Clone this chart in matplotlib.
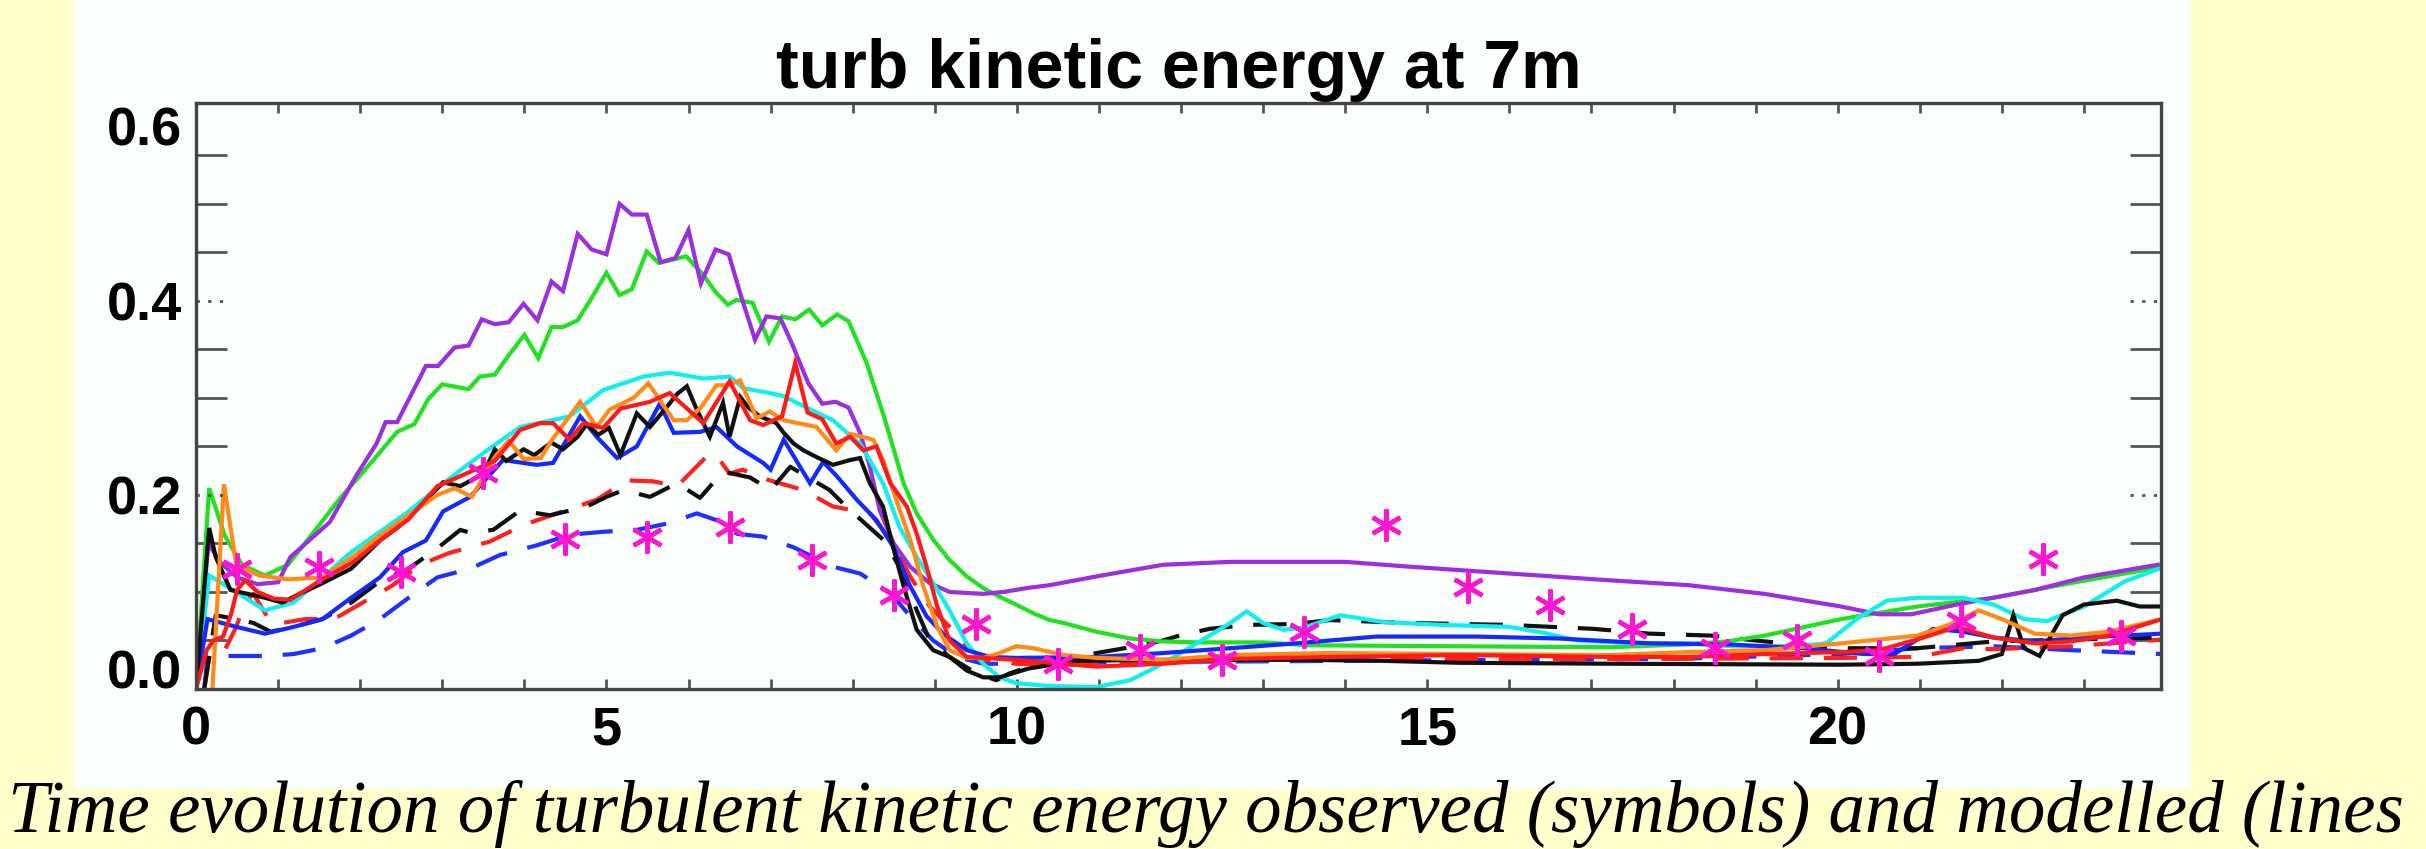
import matplotlib
matplotlib.use("Agg")
import numpy as np
import matplotlib.pyplot as plt
import matplotlib.transforms as mtransforms
from matplotlib.patches import Rectangle

# ---------------- data (time in hours, TKE) ----------------
purple = [(0, 0.0), (0.15, 0.15), (0.3, 0.13), (0.5, 0.115), (0.75, 0.108), (1.0, 0.11), (1.15, 0.136),
          (1.63, 0.172), (1.96, 0.221), (2.2, 0.253), (2.31, 0.275), (2.45, 0.275), (2.8, 0.333), (2.95, 0.333),
          (3.15, 0.352), (3.32, 0.354), (3.48, 0.381), (3.64, 0.376), (3.81, 0.378), (3.99, 0.397), (4.16, 0.38),
          (4.33, 0.42), (4.47, 0.41), (4.65, 0.469), (4.82, 0.453), (5.0, 0.448), (5.16, 0.50), (5.31, 0.489),
          (5.49, 0.489), (5.66, 0.44), (5.84, 0.444), (6.0, 0.473), (6.15, 0.418), (6.33, 0.453), (6.49, 0.448),
          (6.64, 0.405), (6.81, 0.360), (6.95, 0.384), (7.12, 0.382), (7.26, 0.356), (7.46, 0.315), (7.63, 0.294),
          (7.79, 0.296), (7.95, 0.29), (8.09, 0.264), (8.21, 0.229), (8.33, 0.184), (8.5, 0.15), (8.7, 0.126),
          (8.94, 0.109), (9.18, 0.1), (9.59, 0.098), (9.84, 0.1), (10.12, 0.104), (10.4, 0.107), (10.97, 0.116),
          (11.78, 0.128), (12.6, 0.131), (13.57, 0.131), (14.0, 0.131), (14.79, 0.126), (16.0, 0.119),
          (17.22, 0.112), (18.18, 0.107), (19.11, 0.098), (20.04, 0.085), (20.5, 0.077), (20.9, 0.077),
          (21.45, 0.087), (22.4, 0.102), (23.0, 0.115), (23.9, 0.128)]

green = [(0, 0.0), (0.16, 0.207), (0.35, 0.158), (0.56, 0.128), (0.84, 0.117), (1.12, 0.128), (1.4, 0.158),
         (1.75, 0.196), (2.1, 0.23), (2.45, 0.265), (2.66, 0.273), (2.83, 0.299), (3.0, 0.314), (3.32, 0.309),
         (3.46, 0.322), (3.64, 0.324), (3.81, 0.344), (4.0, 0.365), (4.17, 0.341), (4.33, 0.373), (4.47, 0.373),
         (4.65, 0.38), (4.82, 0.403), (5.0, 0.429), (5.16, 0.406), (5.31, 0.412), (5.49, 0.451), (5.64, 0.439),
         (5.97, 0.446), (6.17, 0.428), (6.33, 0.409), (6.48, 0.396), (6.58, 0.401), (6.78, 0.398), (6.98, 0.358),
         (7.14, 0.384), (7.3, 0.381), (7.47, 0.391), (7.63, 0.375), (7.81, 0.386), (7.95, 0.379), (8.17, 0.336),
         (8.38, 0.281), (8.5, 0.247), (8.62, 0.212), (8.78, 0.181), (8.98, 0.154), (9.18, 0.133), (9.39, 0.116),
         (9.59, 0.104), (9.79, 0.095), (9.99, 0.087), (10.2, 0.078), (10.4, 0.071), (10.57, 0.068),
         (10.97, 0.059), (11.38, 0.052), (11.78, 0.049), (12.19, 0.048), (13.0, 0.048), (13.57, 0.045),
         (15.38, 0.044), (17.22, 0.043), (18.18, 0.046), (18.65, 0.049), (19.11, 0.055), (20.04, 0.072),
         (20.97, 0.085), (21.9, 0.094), (22.83, 0.109), (23.9, 0.125)]

cyan = [(0, 0.0), (0.16, 0.117), (0.49, 0.1), (0.84, 0.081), (1.19, 0.089), (1.54, 0.115), (1.89, 0.141),
        (2.24, 0.162), (2.59, 0.183), (2.94, 0.207), (3.29, 0.23), (3.58, 0.248), (3.95, 0.27), (4.55, 0.281),
        (4.96, 0.308), (5.45, 0.322), (5.77, 0.326), (6.18, 0.32), (6.5, 0.322), (6.67, 0.31), (6.99, 0.305),
        (7.15, 0.302), (7.56, 0.285), (7.76, 0.277), (7.97, 0.261), (8.09, 0.253), (8.37, 0.212), (8.57, 0.167),
        (8.78, 0.136), (8.98, 0.109), (9.18, 0.081), (9.39, 0.047), (9.59, 0.026), (9.79, 0.012), (9.99, 0.006),
        (10.4, 0.003), (10.97, 0.002), (11.38, 0.009), (11.78, 0.026), (12.19, 0.047), (12.6, 0.068),
        (12.8, 0.080), (13.0, 0.068), (13.25, 0.061), (13.49, 0.063), (13.94, 0.076), (14.46, 0.069),
        (15.19, 0.066), (16.0, 0.064), (16.41, 0.058), (16.82, 0.05), (17.52, 0.047), (18.18, 0.047),
        (18.73, 0.044), (19.48, 0.044), (19.86, 0.047), (20.23, 0.072), (20.6, 0.091), (20.97, 0.094),
        (21.53, 0.094), (21.9, 0.087), (22.27, 0.072), (22.55, 0.07), (23.0, 0.085), (23.5, 0.111), (23.92, 0.124)]

orange = [(0.2, 0.0), (0.34, 0.211), (0.49, 0.128), (0.77, 0.117), (1.12, 0.113), (1.54, 0.115), (1.89, 0.135),
          (2.24, 0.158), (2.59, 0.179), (2.94, 0.2), (3.15, 0.207), (3.36, 0.198), (3.64, 0.239), (3.81, 0.256),
          (3.99, 0.237), (4.2, 0.238), (4.33, 0.256), (4.68, 0.296), (4.88, 0.27), (5.04, 0.288), (5.33, 0.3),
          (5.51, 0.315), (5.82, 0.277), (5.98, 0.277), (6.15, 0.29), (6.34, 0.313), (6.47, 0.313), (6.63, 0.318),
          (6.83, 0.279), (6.99, 0.286), (7.16, 0.277), (7.56, 0.27), (7.8, 0.246), (7.97, 0.263), (8.25, 0.257),
          (8.37, 0.236), (8.53, 0.195), (8.7, 0.154), (8.86, 0.106), (9.03, 0.064), (9.18, 0.04), (9.39, 0.032),
          (9.59, 0.032), (9.79, 0.037), (9.99, 0.044), (10.2, 0.042), (10.57, 0.035), (10.97, 0.032),
          (11.78, 0.03), (12.6, 0.035), (13.81, 0.037), (15.38, 0.036), (17.22, 0.035), (18.18, 0.038),
          (19.11, 0.04), (20.04, 0.047), (20.97, 0.055), (21.35, 0.066), (21.72, 0.081), (22.0, 0.072),
          (22.4, 0.057), (22.84, 0.055), (23.3, 0.059), (23.95, 0.072)]

red = [(0, 0.0), (0.13, 0.04), (0.21, 0.05), (0.33, 0.054), (0.43, 0.078), (0.5, 0.102), (0.6, 0.112),
       (0.75, 0.1), (0.95, 0.093), (1.15, 0.092), (1.54, 0.113), (1.9, 0.13), (2.24, 0.153), (2.59, 0.175),
       (2.94, 0.209), (3.29, 0.222), (3.64, 0.235), (3.95, 0.267), (4.19, 0.274), (4.35, 0.274), (4.55, 0.257),
       (4.72, 0.274), (4.96, 0.269), (5.17, 0.289), (5.53, 0.296), (5.77, 0.305), (6.18, 0.274), (6.5, 0.317),
       (6.75, 0.277), (6.91, 0.272), (7.14, 0.281), (7.3, 0.336), (7.45, 0.285), (7.63, 0.278), (7.8, 0.253),
       (7.97, 0.26), (8.13, 0.246), (8.29, 0.25), (8.46, 0.212), (8.66, 0.188), (8.78, 0.16), (8.9, 0.126),
       (9.03, 0.085), (9.18, 0.05), (9.39, 0.033), (9.59, 0.032), (9.99, 0.03), (10.97, 0.023), (11.78, 0.026),
       (12.6, 0.031), (13.81, 0.033), (15.38, 0.035), (17.22, 0.033), (18.18, 0.033), (19.11, 0.036),
       (20.04, 0.038), (20.5, 0.04), (20.97, 0.051), (21.45, 0.064), (21.9, 0.053), (22.4, 0.047),
       (22.84, 0.049), (23.3, 0.055), (23.95, 0.072)]

black = [(0, 0.0), (0.16, 0.166), (0.24, 0.136), (0.42, 0.102), (0.63, 0.098), (0.84, 0.094), (1.05, 0.089),
         (1.26, 0.098), (1.54, 0.109), (1.89, 0.124), (2.24, 0.153), (2.45, 0.166), (2.73, 0.188), (3.01, 0.213),
         (3.22, 0.209), (3.5, 0.222), (3.64, 0.247), (3.78, 0.235), (3.99, 0.247), (4.12, 0.241), (4.33, 0.254),
         (4.47, 0.247), (4.65, 0.26), (4.76, 0.273), (4.9, 0.262), (5.03, 0.269), (5.17, 0.241), (5.37, 0.284),
         (5.53, 0.27), (5.73, 0.29), (5.86, 0.304), (5.98, 0.312), (6.1, 0.288), (6.26, 0.26), (6.42, 0.295),
         (6.5, 0.26), (6.63, 0.301), (6.73, 0.29), (6.87, 0.281), (7.07, 0.274), (7.16, 0.264), (7.28, 0.253),
         (7.4, 0.246), (7.56, 0.239), (7.76, 0.231), (7.97, 0.236), (8.09, 0.238), (8.21, 0.212), (8.37, 0.188),
         (8.49, 0.147), (8.62, 0.106), (8.78, 0.061), (8.98, 0.04), (9.18, 0.033), (9.39, 0.019), (9.59, 0.012),
         (9.79, 0.012), (10.14, 0.021), (10.72, 0.029), (11.65, 0.03), (13.52, 0.03), (14.45, 0.029),
         (15.38, 0.027), (17.25, 0.026), (20.04, 0.025), (20.97, 0.026), (21.72, 0.029), (22.0, 0.036),
         (22.14, 0.076), (22.27, 0.042), (22.46, 0.034), (22.74, 0.076), (23.0, 0.087), (23.4, 0.091),
         (23.68, 0.085), (23.95, 0.085)]

blue = [(0, 0.0), (0.14, 0.072), (0.49, 0.064), (0.84, 0.057), (1.19, 0.064), (1.54, 0.072), (1.89, 0.094),
        (2.24, 0.115), (2.52, 0.141), (2.8, 0.153), (3.01, 0.183), (3.34, 0.198), (3.74, 0.236), (4.15, 0.231),
        (4.35, 0.233), (4.68, 0.281), (4.88, 0.26), (5.13, 0.238), (5.37, 0.25), (5.65, 0.294), (5.82, 0.264),
        (6.14, 0.265), (6.34, 0.27), (6.59, 0.25), (6.91, 0.233), (7.0, 0.226), (7.16, 0.257), (7.48, 0.212),
        (7.64, 0.234), (7.8, 0.22), (8.05, 0.195), (8.29, 0.174), (8.49, 0.147), (8.7, 0.106), (8.9, 0.075),
        (9.1, 0.057), (9.39, 0.04), (9.67, 0.033), (9.99, 0.032), (10.97, 0.033), (11.78, 0.037), (12.6, 0.042),
        (13.4, 0.047), (14.38, 0.054), (15.6, 0.054), (16.61, 0.052), (17.71, 0.047), (18.65, 0.046),
        (19.58, 0.042), (20.32, 0.036), (20.69, 0.036), (20.97, 0.051), (21.16, 0.062), (21.53, 0.059),
        (21.9, 0.053), (22.4, 0.049), (23.0, 0.053), (23.95, 0.057)]

black_dashed = [(0.1, 0.0), (0.24, 0.076), (0.49, 0.072), (0.7, 0.068), (0.91, 0.059), (1.19, 0.064),
                (1.54, 0.072), (1.89, 0.089), (2.24, 0.111), (2.59, 0.124), (2.94, 0.145), (3.22, 0.164),
                (3.34, 0.161), (3.62, 0.164), (3.95, 0.184), (4.31, 0.179), (4.76, 0.188), (5.0, 0.198),
                (5.21, 0.205), (5.53, 0.198), (5.86, 0.212), (6.14, 0.197), (6.42, 0.224), (6.75, 0.218),
                (7.0, 0.205), (7.24, 0.229), (7.72, 0.205), (7.92, 0.188), (8.37, 0.154), (8.62, 0.119),
                (8.78, 0.081), (8.94, 0.05), (9.18, 0.033), (9.51, 0.016), (9.75, 0.009), (9.91, 0.016),
                (10.26, 0.026), (10.97, 0.037), (11.38, 0.043), (11.78, 0.05), (11.98, 0.055), (12.35, 0.062),
                (12.8, 0.066), (13.4, 0.067), (13.81, 0.071), (14.79, 0.068), (16.0, 0.066), (17.02, 0.062),
                (17.71, 0.057), (18.46, 0.055), (19.11, 0.049), (20.04, 0.042), (20.97, 0.042), (21.9, 0.049),
                (22.84, 0.051), (23.95, 0.053)]

red_dashed = [(0.1, 0.0), (0.17, 0.038), (0.35, 0.04), (0.49, 0.064), (0.6, 0.09), (0.7, 0.098), (0.9, 0.07),
              (1.05, 0.068), (1.33, 0.072), (1.68, 0.072), (2.03, 0.089), (2.38, 0.106), (2.73, 0.128),
              (3.08, 0.14), (3.58, 0.152), (3.99, 0.169), (4.4, 0.181), (4.88, 0.195), (5.25, 0.215),
              (5.57, 0.214), (5.86, 0.209), (6.26, 0.243), (6.38, 0.236), (6.5, 0.222), (6.66, 0.226),
              (6.95, 0.216), (7.4, 0.205), (7.76, 0.188), (8.21, 0.181), (8.46, 0.154), (8.7, 0.116),
              (8.94, 0.085), (9.18, 0.064), (9.39, 0.044), (9.59, 0.03), (9.99, 0.026), (10.72, 0.025),
              (11.65, 0.027), (12.59, 0.031), (14.0, 0.031), (16.0, 0.031), (18.0, 0.031), (20.04, 0.032),
              (20.97, 0.033), (21.53, 0.042), (21.9, 0.041), (22.84, 0.044), (23.95, 0.051)]

blue_dashed = [(0.1, 0.0), (0.14, 0.034), (0.49, 0.034), (0.84, 0.034), (1.19, 0.036), (1.54, 0.042),
               (1.89, 0.055), (2.24, 0.072), (2.59, 0.094), (2.94, 0.115), (3.34, 0.124), (3.7, 0.138),
               (4.15, 0.148), (4.56, 0.159), (4.96, 0.162), (5.37, 0.164), (5.77, 0.171), (6.1, 0.181),
               (6.34, 0.174), (6.59, 0.16), (6.91, 0.157), (7.28, 0.146), (7.76, 0.126), (8.09, 0.119),
               (8.46, 0.099), (8.7, 0.075), (8.98, 0.05), (9.27, 0.033), (9.59, 0.026), (9.99, 0.026),
               (10.72, 0.027), (12.0, 0.028), (14.0, 0.029), (16.0, 0.03), (18.0, 0.031), (20.04, 0.036),
               (20.97, 0.042), (21.9, 0.044), (22.84, 0.04), (23.95, 0.036)]

obs_t = [0.5, 1.5, 2.5, 3.5, 4.5, 5.5, 6.5, 7.5, 8.5, 9.5, 10.5, 11.5, 12.5, 13.5, 14.5, 15.5, 16.5, 17.5,
         18.5, 19.5, 20.5, 21.5, 22.5, 23.45]
obs_v = [0.124, 0.126, 0.121, 0.223, 0.155, 0.157, 0.167, 0.133, 0.097, 0.067, 0.026, 0.040, 0.030, 0.059,
         0.169, 0.105, 0.087, 0.062, 0.042, 0.050, 0.034, 0.070, 0.134, 0.055]

x_major = [0, 5, 10, 15, 20]
y_major = [0.0, 0.2, 0.4, 0.6]
y_major_labels = ["0.0", "0.2", "0.4", "0.6"]
title = "turb kinetic energy at 7m"
# the reference caption runs off the right edge after "(lines"
caption = "Time evolution of turbulent kinetic energy observed (symbols) and modelled (lines"

# ---------------- figure ----------------
plt.rcParams["font.family"] = ["Liberation Sans", "DejaVu Sans"]

fig = plt.figure(figsize=(24.26, 8.49), dpi=100)
fig.patch.set_facecolor("#ffffcc")
panel = Rectangle((0.0305, 0.0707), 0.8726, 0.94, transform=fig.transFigure,
                  facecolor="#fbfffb", edgecolor="none", zorder=-10)
fig.add_artist(panel)

ax = fig.add_axes([0.0808, 0.1885, 0.81, 0.6902])
ax.set_zorder(5)
ax.set_facecolor("#fbfffb")

dash = (0, (8, 5))
series = [
    (blue_dashed, "#2030ff", dash),
    (red_dashed, "#ff2020", dash),
    (black_dashed, "#111111", dash),
    (green, "#22e022", "-"),
    (purple, "#9a2ee0", "-"),
    (cyan, "#10eeee", "-"),
    (blue, "#1428ff", "-"),
    (black, "#111111", "-"),
    (orange, "#ff8a1a", "-"),
    (red, "#ff1a1a", "-"),
]
for data, col, ls in series:
    t = [p[0] for p in data]
    v = [p[1] for p in data]
    ax.plot(t, v, color=col, ls=ls, lw=3.0, solid_joinstyle="miter")

ax.plot(obs_t, obs_v, ls="none", marker=(6, 2, 0), ms=23, mew=3.2, color="#ff14d2", zorder=6)

ax.set_xlim(0, 23.94)
ax.set_ylim(0, 0.604)
ax.set_xticks(x_major)
ax.set_xticklabels([str(x) for x in x_major])
ax.set_xticks(np.arange(0, 24, 1), minor=True)
ax.set_yticks(y_major)
ax.set_yticklabels(y_major_labels)
ax.set_yticks(np.arange(0, 0.601, 0.05), minor=True)

for sp in ax.spines.values():
    sp.set_color("#444444")
    sp.set_linewidth(2.4)

ax.tick_params(axis="both", which="both", direction="in", top=True, right=True,
               color="#555555", width=2)
ax.tick_params(axis="x", which="both", length=7, pad=12, labelsize=39)
ax.tick_params(axis="y", which="minor", length=22)
ax.tick_params(axis="y", which="major", length=0, pad=10, labelsize=39)
for lbl in ax.get_xticklabels() + ax.get_yticklabels():
    lbl.set_fontweight("bold")

yt = ax.yaxis.get_major_ticks()
yt[0].label1.set_va("baseline")
yt[-1].label1.set_va("top")

trans = mtransforms.blended_transform_factory(ax.transAxes, ax.transData)
for y in y_major[1:-1]:
    ax.plot([0, 0.016], [y, y], transform=trans, ls=(0, (1.2, 3)), color="#555555", lw=2, clip_on=False)
    ax.plot([0.984, 1.0], [y, y], transform=trans, ls=(0, (1.2, 3)), color="#555555", lw=2, clip_on=False)

ax.set_title(title, fontsize=49, fontweight="bold", pad=11)

fig.text(8 / 2426, 0.02, caption, fontfamily=["Liberation Serif", "DejaVu Serif"], style="italic",
         fontsize=52.5, ha="left", va="baseline", zorder=10)

fig.savefig("out.png", dpi=100, facecolor=fig.get_facecolor())
